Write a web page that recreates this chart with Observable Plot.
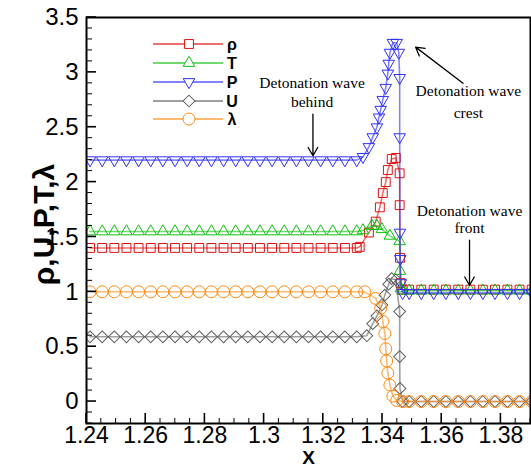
<!DOCTYPE html>
<html>
<head>
<meta charset="utf-8">
<script src="https://cdn.jsdelivr.net/npm/d3@7"></script>
<script src="https://cdn.jsdelivr.net/npm/@observablehq/plot@0.6"></script>
<style>
  html, body { margin: 0; padding: 0; background: #fff; }
</style>
</head>
<body>
<div id="chart"></div>
<script>
// ---- Tick labels ----
const xTicks = [1.24, 1.26, 1.28, 1.30, 1.32, 1.34, 1.36, 1.38];
const yTicks = [0, 0.5, 1, 1.5, 2, 2.5, 3, 3.5];

// ---- Shared marker x positions on the plateaus ----
const xLeft = [1.2412, 1.2453, 1.2494, 1.2535, 1.2576, 1.2617, 1.2658, 1.2699, 1.2740, 1.2781, 1.2822,
               1.2863, 1.2904, 1.2945, 1.2986, 1.3027, 1.3068, 1.3109, 1.3150, 1.3191, 1.3232, 1.3273];
const xRight = [1.3490, 1.3531, 1.3573, 1.3614, 1.3656, 1.3697, 1.3739, 1.3780, 1.3822, 1.3863, 1.3904];

// ---- rho ----
const rhoLeftY = [1.40,1.40,1.40,1.40,1.40,1.40,1.40,1.40,1.40,1.40,1.40,1.40,1.40,1.40,1.40,1.40,1.40,1.40,1.40,1.40,1.40,1.40];
const rhoMidX = [1.3313, 1.3323, 1.3354, 1.3377, 1.3391, 1.3401, 1.3411, 1.3418, 1.3431, 1.3445, 1.3458, 1.3458, 1.3459, 1.3461, 1.3468];
const rhoMidY = [1.40, 1.41, 1.54, 1.64, 1.77, 1.90, 2.00, 2.11, 2.21, 2.22, 2.08, 1.79, 1.31, 1.08, 1.02];
const rhoRightY = [1.02,1.02,1.02,1.02,1.02,1.02,1.02,1.02,1.02,1.02,1.02];

// ---- T ----
const tLeftY = [1.55,1.55,1.55,1.55,1.55,1.55,1.55,1.55,1.55,1.55,1.55,1.55,1.55,1.55,1.55,1.55,1.55,1.55,1.55,1.55,1.55,1.55];
const tMidX = [1.3313, 1.3334, 1.3364, 1.3381, 1.3398, 1.3425, 1.3458, 1.3459, 1.3462, 1.3468];
const tMidY = [1.55, 1.56, 1.60, 1.60, 1.57, 1.51, 1.46, 1.19, 1.03, 1.01];
const tRightY = [1.01,1.01,1.01,1.01,1.01,1.01,1.01,1.01,1.01,1.01,1.01];

// ---- P ----
const pLeftY = [2.20,2.20,2.20,2.20,2.20,2.20,2.20,2.20,2.20,2.20,2.20,2.20,2.20,2.20,2.20,2.20,2.20,2.20,2.20,2.20,2.20,2.20];
const pMidX = [1.3313, 1.3334, 1.3354, 1.3367, 1.3381, 1.3388, 1.3394, 1.3401, 1.3411, 1.3418, 1.3421, 1.3425,
               1.3435, 1.3448, 1.3455, 1.3458, 1.3458, 1.3459, 1.3460, 1.3462, 1.3468];
const pMidY = [2.20, 2.23, 2.32, 2.41, 2.50, 2.59, 2.66, 2.75, 2.86, 2.99, 3.08, 3.18,
               3.27, 3.27, 3.18, 2.95, 2.41, 1.54, 1.30, 1.08, 0.99];
const pRightY = [0.99,0.99,0.99,0.99,0.99,0.99,0.99,0.99,0.99,0.99,0.99];

// ---- U ----
const uLeftY = [0.59,0.59,0.59,0.59,0.59,0.59,0.59,0.59,0.59,0.59,0.59,0.59,0.59,0.59,0.59,0.59,0.59,0.59,0.59,0.59,0.59,0.59];
const uMidX = [1.3313, 1.3347, 1.3367, 1.3381, 1.3398, 1.3408, 1.3421, 1.3431, 1.3445, 1.3458, 1.3458, 1.3459, 1.3468];
const uMidY = [0.59, 0.60, 0.71, 0.78, 0.88, 0.97, 1.07, 1.12, 1.11, 0.82, 0.41, 0.12, 0.00];
const uRightY = [0,0,0,0,0,0,0,0,0,0,0];

// ---- lambda ----
const lamLeftY = [1,1,1,1,1,1,1,1,1,1,1,1,1,1,1,1,1,1,1,1,1,1];
const lamMidX = [1.3313, 1.3340, 1.3377, 1.3394, 1.3401, 1.3408, 1.3411, 1.3414, 1.3418, 1.3425, 1.3435, 1.3448, 1.3468];
const lamMidY = [1.00, 1.00, 0.94, 0.85, 0.73, 0.62, 0.48, 0.37, 0.26, 0.15, 0.05, 0.01, 0.00];
const lamRightY = [0,0,0,0,0,0,0,0,0,0,0];

// ---- series definitions ----
const series = [
  {key: "ρ", color: "#e01010", symbol: "square",   r: 5.0, rotate: 0,   xs: [...xLeft, ...rhoMidX, ...xRight], ys: [...rhoLeftY, ...rhoMidY, ...rhoRightY]},
  {key: "T", color: "#10c010", symbol: "triangle", r: 4.3, rotate: 0,   xs: [...xLeft, ...tMidX, ...xRight],   ys: [...tLeftY, ...tMidY, ...tRightY]},
  {key: "P", color: "#3030ff", symbol: "triangle", r: 4.3, rotate: 180, xs: [...xLeft, ...pMidX, ...xRight],   ys: [...pLeftY, ...pMidY, ...pRightY]},
  {key: "U", color: "#606060", symbol: "square",   r: 4.7, rotate: 45,  xs: [...xLeft, ...uMidX, ...xRight],   ys: [...uLeftY, ...uMidY, ...uRightY]},
  {key: "λ", color: "#ff8a10", symbol: "circle",   r: 6.0, rotate: 0,   xs: [...xLeft, ...lamMidX, ...xRight], ys: [...lamLeftY, ...lamMidY, ...lamRightY]}
];

// ---- annotations ----
const notes = [
  {text: "Detonation wave", x: 1.3162, y: 2.90},
  {text: "behind",          x: 1.3162, y: 2.73},
  {text: "Detonation wave", x: 1.3690, y: 2.83},
  {text: "crest",           x: 1.3690, y: 2.63},
  {text: "Detonation wave", x: 1.3694, y: 1.74},
  {text: "front",           x: 1.3694, y: 1.58}
];
const arrows = [
  {x1: 1.3165, y1: 2.62, x2: 1.3165, y2: 2.24},
  {x1: 1.3672, y1: 2.90, x2: 1.3512, y2: 3.23},
  {x1: 1.3694, y1: 1.47, x2: 1.3694, y2: 1.06}
];

const seriesMarks = series.flatMap(s => {
  const rows = s.xs.map((x, i) => ({x, y: s.ys[i]}));
  return [
    Plot.line(rows, {x: "x", y: "y", stroke: s.color, strokeOpacity: 0.6, strokeWidth: 1.6, clip: true}),
    Plot.dot(rows, {x: "x", y: "y", symbol: s.symbol, r: s.r, rotate: s.rotate, stroke: s.color, fill: "none", strokeWidth: 1, clip: true})
  ];
});

// inward ticks, drawn from the plot's scales
function ticksMark(index, scales, values, dim) {
  const {x, y} = scales;
  const g = d3.create("svg:g").attr("stroke", "black").attr("fill", "none");
  const bottom = dim.height - dim.marginBottom;
  const left = dim.marginLeft;
  const xMinor = d3.ticks(1.24, 1.39, 30);
  const yMinor = d3.ticks(-0.2, 3.5, 37);
  for (const t of xMinor) {
    const major = xTicks.some(v => Math.abs(v - t) < 1e-9);
    g.append("line").attr("x1", x(t)).attr("x2", x(t)).attr("y1", bottom).attr("y2", bottom - (major ? 10 : 5))
      .attr("stroke-width", major ? 1.6 : 1);
  }
  for (const t of yMinor) {
    const major = yTicks.some(v => Math.abs(v - t) < 1e-9);
    g.append("line").attr("y1", y(t)).attr("y2", y(t)).attr("x1", left).attr("x2", left + (major ? 10 : 6))
      .attr("stroke-width", major ? 1.6 : 1);
  }
  return g.node();
}

// legend inside the frame
function legendMark() {
  const g = d3.create("svg:g");
  const rowsY = [44, 63, 82, 101, 119];
  series.forEach((s, i) => {
    const yy = rowsY[i];
    g.append("line").attr("x1", 153).attr("x2", 223).attr("y1", yy).attr("y2", yy)
      .attr("stroke", s.color).attr("stroke-opacity", 0.6).attr("stroke-width", 2);
    const sym = {square: d3.symbolSquare, triangle: d3.symbolTriangle, circle: d3.symbolCircle}[s.symbol];
    g.append("path").attr("d", d3.symbol(sym, Math.PI * s.r * s.r)())
      .attr("transform", `translate(189,${yy}) rotate(${s.rotate})`)
      .attr("fill", "white").attr("stroke", s.color).attr("stroke-width", 1);
    g.append("text").attr("x", 232).attr("y", yy).attr("dy", "0.36em")
      .attr("font-family", "Liberation Sans, Arial, sans-serif").attr("font-weight", "bold")
      .attr("font-size", 16).attr("fill", "black").text(s.key);
  });
  return g.node();
}

const chart = Plot.plot({
  width: 531,
  height: 468,
  marginLeft: 86,
  marginRight: 1,
  marginTop: 17,
  marginBottom: 45,
  x: {domain: [1.24, 1.39], label: null},
  y: {domain: [-0.2, 3.5], label: null},
  style: {fontFamily: "Liberation Sans, Arial, sans-serif", background: "white", color: "black"},
  marks: [
    ...seriesMarks,
    Plot.arrow(arrows, {x1: "x1", y1: "y1", x2: "x2", y2: "y2", stroke: "black", strokeWidth: 1.3, headLength: 11}),
    Plot.text(notes, {x: "x", y: "y", text: "text", fontFamily: "Liberation Serif, Times New Roman, serif", fontSize: 15.5, fill: "black"}),
    Plot.axisX({ticks: xTicks, tickSize: 0, tickPadding: 3, fontSize: 23, label: null, tickFormat: d => String(+d.toFixed(2))}),
    Plot.axisY({ticks: yTicks, tickSize: 0, tickPadding: 8, fontSize: 24, label: null, tickFormat: d => String(d)}),
    Plot.text(["X"], {frameAnchor: "bottom", textAnchor: "middle", lineAnchor: "middle", dy: 34, fontSize: 19, fontWeight: "bold", fill: "black"}),
    Plot.text(["ρ,U,P,T,λ"], {frameAnchor: "left", textAnchor: "middle", lineAnchor: "middle", dx: -42, dy: 4, rotate: -90, fontSize: 30, fontWeight: "bold", fill: "black"}),
    ticksMark,
    legendMark,
    Plot.frame({stroke: "black", strokeWidth: 2})
  ]
});
document.getElementById("chart").appendChild(chart);
</script>
</body>
</html>
